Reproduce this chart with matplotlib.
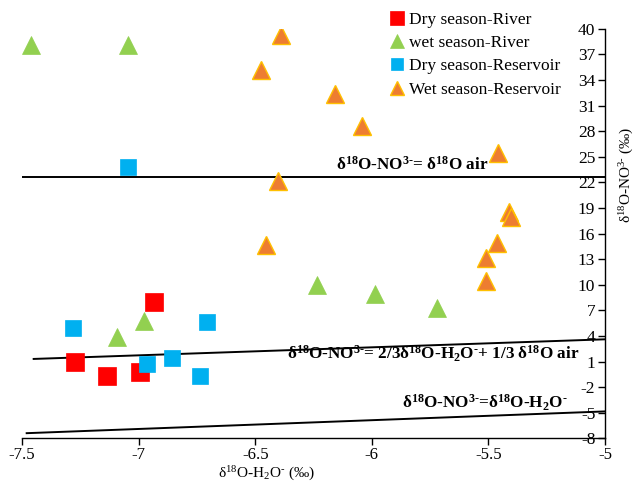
import matplotlib
matplotlib.use("Agg")
import matplotlib.pyplot as plt

plt.rcParams['font.family'] = ['Liberation Serif', 'DejaVu Serif']
plt.rcParams['mathtext.fontset'] = 'custom'
plt.rcParams['mathtext.rm'] = 'Liberation Serif'
plt.rcParams['mathtext.bf'] = 'Liberation Serif:bold'
plt.rcParams['mathtext.it'] = 'Liberation Serif:italic'
plt.rcParams['axes.unicode_minus'] = False

# Data (δ18O-H2O, δ18O-NO3)
dry_river_x = [-7.273, -7.134, -6.995, -6.935]
dry_river_y = [0.98, -0.66, -0.19, 8.01]

wet_river_x = [-7.46, -7.045, -7.094, -6.976, -6.234, -5.986, -5.719]
wet_river_y = [38.1, 38.1, 3.91, 5.75, 10.0, 8.89, 7.24]

dry_res_x = [-7.281, -6.964, -6.857, -6.708, -6.737, -7.045]
dry_res_y = [4.97, 0.75, 1.41, 5.63, -0.66, 23.84]

wet_res_x = [-6.389, -6.474, -6.158, -6.042, -6.401, -6.454, -5.46, -5.412, -5.403, -5.462, -5.512, -5.512]
wet_res_y = [39.22, 35.12, 32.4, 28.64, 22.19, 14.7, 25.47, 18.57, 17.98, 14.87, 13.17, 10.41]

# Reference lines
air_line_x = [-7.5, -5.0]
air_line_y = [22.6, 22.6]
mix_line_x = [-7.45, -5.0]
mix_line_y = [1.3, 3.6]
water_line_x = [-7.48, -5.0]
water_line_y = [-7.4, -4.85]

x_ticks = [-7.5, -7, -6.5, -6, -5.5, -5]
x_tick_labels = ['-7.5', '-7', '-6.5', '-6', '-5.5', '-5']
y_ticks = [-8, -5, -2, 1, 4, 7, 10, 13, 16, 19, 22, 25, 28, 31, 34, 37, 40]

fig = plt.figure(figsize=(6.38, 4.84), dpi=100)
ax = fig.add_axes([22/638, 1 - 438.3/484, (605-22)/638, (438.3-28.7)/484])

ax.plot(air_line_x, air_line_y, color='black', lw=1.4, zorder=1)
ax.plot(mix_line_x, mix_line_y, color='black', lw=1.4, zorder=1)
ax.plot(water_line_x, water_line_y, color='black', lw=1.4, zorder=1)

ax.plot(dry_river_x, dry_river_y, 's', color='#FF0000', ms=13, mec='#FF0000', mew=0.5,
        ls='none', label='Dry season-River', zorder=3)
ax.plot(wet_river_x, wet_river_y, '^', color='#92D050', ms=13, mec='#92D050', mew=0.5,
        ls='none', label='wet season-River', zorder=3)
ax.plot(dry_res_x, dry_res_y, 's', color='#00B0F0', ms=11.5, mec='#00B0F0', mew=0.5,
        ls='none', label='Dry season-Reservoir', zorder=3)
ax.plot(wet_res_x, wet_res_y, '^', color='#ED7D31', ms=13, mec='#FFC000', mew=1.0,
        ls='none', label='Wet season-Reservoir', zorder=3)

ax.set_xlim(-7.5, -5)
ax.set_ylim(-8, 40)
ax.set_xticks(x_ticks)
ax.set_xticklabels(x_tick_labels)
ax.set_yticks(y_ticks)
ax.set_yticklabels([str(v) for v in y_ticks])

ax.spines['top'].set_visible(False)
ax.spines['right'].set_visible(False)
ax.spines['left'].set_position(('data', -5))
ax.spines['left'].set_linewidth(1.0)
ax.spines['bottom'].set_linewidth(1.0)
ax.tick_params(axis='both', direction='out', length=5, width=1.0, labelsize=12.5, pad=2)
ax.tick_params(axis='x', pad=1.5, labelsize=12)

fig.text(266/638, 1 - 474/484, r'δ$^{18}$O-H$_2$O$^{\text{-}}$ (‰)', ha='center', va='center', fontsize=11)
fig.text(627/638, 1 - 175/484, r'δ$^{18}$O-NO$^{3\text{-}}$ (‰)', ha='center', va='center',
         rotation=90, fontsize=11)

ax.text(-6.153, 24.0, r'δ$^{\mathbf{18}}$O-NO$^{\mathbf{3}\text{-}}$= δ$^{\mathbf{18}}$O air',
        ha='left', va='center', fontsize=12.3, fontweight='bold')
ax.text(-6.364, 1.95, r'δ$^{\mathbf{18}}$O-NO$^{\mathbf{3}\text{-}}$= 2/3δ$^{\mathbf{18}}$O-H$_{\mathbf{2}}$O$^{\text{-}}$+ 1/3 δ$^{\mathbf{18}}$O air',
        ha='left', va='center', fontsize=12.3, fontweight='bold')
ax.text(-5.87, -3.8, r'δ$^{\mathbf{18}}$O-NO$^{\mathbf{3}\text{-}}$=δ$^{\mathbf{18}}$O-H$_{\mathbf{2}}$O$^{\text{-}}$',
        ha='left', va='center', fontsize=12.3, fontweight='bold')

leg = ax.legend(loc='upper left', bbox_to_anchor=(378/638, 1 - 0/484), bbox_transform=fig.transFigure,
                frameon=False, fontsize=12.5, markerscale=0.75, handlelength=0.8, handletextpad=0.3,
                labelspacing=0.4, borderpad=0.2)

fig.savefig('out.png', dpi=100)
